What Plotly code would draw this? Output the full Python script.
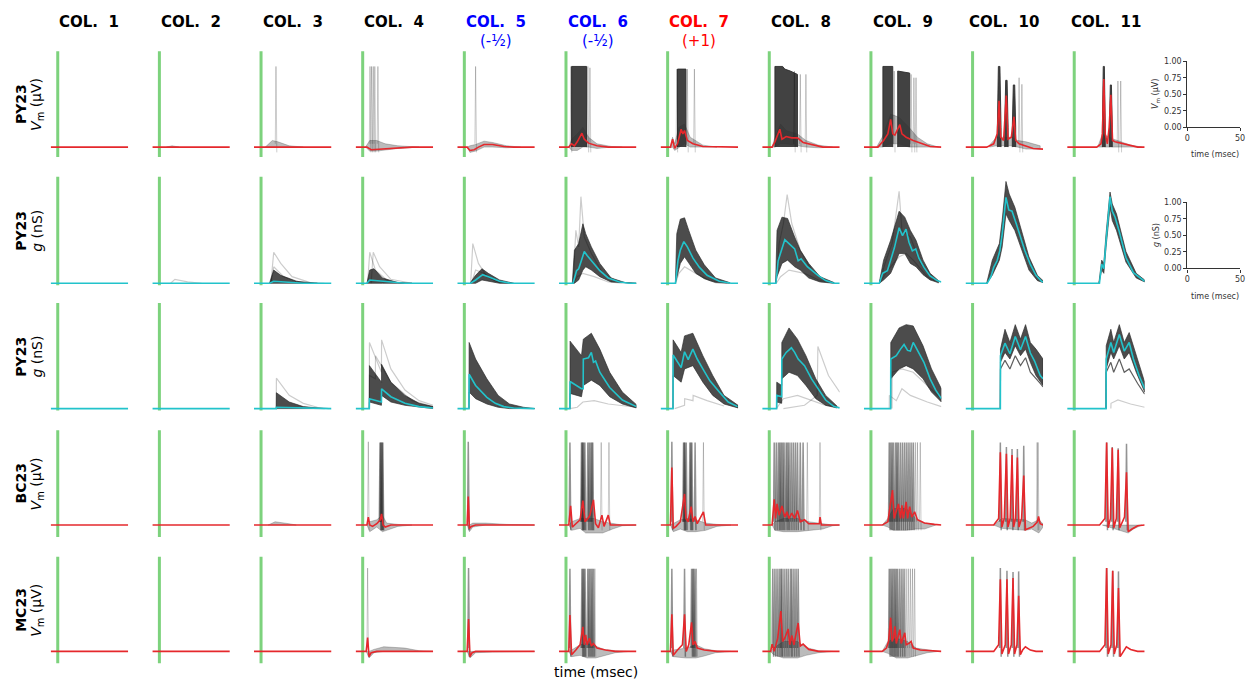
import plotly.graph_objects as go

W, H = 1256, 685

# ---------------- text ----------------
COL_TITLES = ["COL.\u00a0 1", "COL.\u00a0 2", "COL.\u00a0 3", "COL.\u00a0 4", "COL.\u00a0 5", "COL.\u00a0 6",
              "COL.\u00a0 7", "COL.\u00a0 8", "COL.\u00a0 9", "COL.\u00a0 10", "COL.\u00a0 11"]
COL_SUBTITLES = ["", "", "", "", "(-½)", "(-½)", "(+1)", "", "", "", ""]
COL_TITLE_COLORS = ["black", "black", "black", "black", "#0000ff", "#0000ff", "#ff0000",
                    "black", "black", "black", "black"]
ROW_NAMES = ["PY23", "PY23", "PY23", "BC23", "MC23"]
ROW_UNITS = ["<i>V</i><sub>m</sub> (μV)", "<i>g</i> (nS)", "<i>g</i> (nS)",
             "<i>V</i><sub>m</sub> (μV)", "<i>V</i><sub>m</sub> (μV)"]

STIM_T = 0
T_RANGE = [-5, 50]
FLAT = [(-5, 0), (50, 0)]

# ---------------- row 1 : PY23 Vm ----------------
R1_MEAN = [
    FLAT, FLAT, FLAT,
    [(-5, 0), (3, 0), (6, -0.04), (12, -0.03), (20, -0.02), (35, 0), (50, 0)],
    [(-5, 0), (2, 0), (4, -0.05), (7, -0.04), (10, 0), (14, 0.04), (20, 0.04), (28, 0.01), (35, 0), (50, 0)],
    [(-5, 0), (2, 0), (4, 0.05), (6, 0.02), (8, 0.08), (11.3, 0.21), (13, 0.12), (16, 0.06), (22, 0.02), (30, 0), (50, 0)],
    [(-5, 0), (2, 0), (3.5, 0.12), (5, -0.02), (7, 0.05), (9.6, 0.27), (10.8, 0.2), (12, 0.25), (14, 0.1), (18, 0.05), (25, 0.01), (50, 0)],
    [(-5, 0), (2, 0), (4, 0.08), (7.5, 0.27), (9, 0.12), (12, 0.16), (16, 0.14), (20, 0.14), (24, 0.07), (30, 0.04), (38, 0), (50, 0)],
    [(-5, 0), (5, 0), (9, 0.1), (12, 0.2), (14, 0.42), (15.5, 0.2), (17, 0.18), (20.5, 0.34), (22, 0.2), (25, 0.15), (30, 0.1), (35, 0.06), (42, 0.01), (50, 0)],
    [(-5, 0), (10, 0), (15, 0.05), (17.5, 0.2), (18.8, 0.7), (20, 0.15), (22, 0.1), (23.9, 0.78), (25.2, 0.12), (27.5, 0.15), (29.4, 0.46), (30.6, 0.1), (33, 0.05), (38, 0.02), (43, -0.02), (50, -0.03)],
    [(-5, 0), (16, 0), (19, 0.05), (20, 0.2), (21, 1.03), (22, 0.2), (23.5, 0.05), (24.8, 0.3), (26, 0.79), (27.2, 0.1), (29, 0.08), (33, 0.06), (38, 0.03), (45, 0), (50, 0)],
]
R1_ENV = [
    [], [(5, 0, 0), (9, 0, 0.02), (14, 0, 0)],
    [(3, 0, 0), (8, 0, 0.1), (12, -0.01, 0.08), (20, 0, 0.02), (30, 0, 0)],
    [(2, 0, 0), (5, -0.06, 0.1), (10, -0.06, 0.1), (16, -0.05, 0.05), (25, -0.02, 0.02), (40, 0, 0)],
    [(2, 0, 0), (4, -0.08, 0.02), (8, -0.06, 0.04), (14, 0, 0.09), (20, 0, 0.07), (30, -0.01, 0.02), (40, 0, 0)],
    [(2, 0, 0), (4, -0.05, 0.12), (8, -0.05, 0.2), (12, 0, 0.3), (16, 0, 0.15), (22, -0.02, 0.05), (32, 0, 0.01), (40, 0, 0)],
    [(2, -0.01, 0.01), (3.5, 0, 0.15), (5, -0.05, 0.05), (8, 0, 0.3), (12, 0.05, 0.35), (16, 0, 0.15), (25, 0, 0.03), (35, 0, 0)],
    [(2, 0, 0), (4, 0, 0.15), (8, 0.05, 0.35), (12, 0.05, 0.25), (20, 0.02, 0.2), (26, 0, 0.1), (35, -0.01, 0.03), (45, 0, 0)],
    [(4, 0, 0), (8, 0, 0.15), (14, 0.05, 0.5), (20, 0.05, 0.45), (27, 0, 0.3), (33, 0, 0.15), (40, 0, 0.05), (48, 0, 0)],
    [(12, 0, 0.03), (17, 0.02, 0.15), (22, 0.02, 0.15), (28, 0.02, 0.15), (32, 0, 0.1), (38, -0.03, 0.08), (48, -0.03, 0.02)],
    [(17, 0, 0.02), (20, 0, 0.2), (28, 0, 0.12), (34, 0, 0.08), (40, 0, 0.03), (48, 0, 0)],
]
R1_BANDS = [
    [], [], [], [], [],
    [[(4, 1.22), (14.6, 1.22)]],
    [[(7, 1.18), (13, 1.18)]],
    [[(4, 1.22), (9.5, 1.22), (11, 1.18), (15, 1.15), (20, 1.1)]],
    [[(8.5, 1.22), (15.5, 1.22)], [(19, 1.15), (27.5, 1.12)]],
    [[(17.6, 0.3), (18.3, 1.22), (19.4, 1.22), (20.2, 0.3)],
     [(22.8, 0.3), (23.5, 1.01), (24.5, 1.01), (25.2, 0.3)],
     [(28.2, 0.3), (28.9, 0.94), (29.9, 0.94), (30.6, 0.3)]],
    [[(20, 0.3), (20.6, 1.22), (21.4, 1.22), (22, 0.3)],
     [(25, 0.3), (25.6, 0.94), (26.4, 0.94), (27, 0.3)]],
]
R1_LIGHT = [
    [], [], [(10.6, 1.22)],
    [(5.2, 1.22), (6.3, 1.22), (7.5, 1.22), (8.6, 1.22), (10.8, 1.22)],
    [(8, 1.22)],
    [(3.5, 1.22), (15.5, 1.22), (17, 1.2)],
    [(6.5, 1.18), (14, 1.18), (19, 1.18)],
    [(17.8, 1.15), (22, 1.1), (26, 1.1)],
    [(16.5, 1.15), (28.5, 1.1), (30.5, 1.05), (32, 1.05)],
    [(33, 1.05), (35, 0.95)],
    [(31, 1.0), (33, 1.0)],
]

# ---------------- row 2 : PY23 g ----------------
R2_MEAN = [
    FLAT, FLAT,
    [(-5, 0), (6, 0), (9, 0.03), (15, 0.02), (30, 0), (50, 0)],
    [(-5, 0), (3, 0), (5, 0.05), (10, 0.04), (20, 0.01), (30, 0), (50, 0)],
    [(-5, 0), (4.4, 0), (8, 0.05), (13, 0.13), (18, 0.09), (25, 0.03), (33, 0), (50, 0)],
    [(-5, 0), (5, 0), (7.5, 0.19), (9, 0.22), (11, 0.35), (13, 0.48), (15, 0.42), (18, 0.34), (24, 0.19), (30, 0.08), (38, 0.02), (45, 0), (50, 0)],
    [(-5, 0), (5.6, 0), (7.3, 0.34), (9, 0.5), (11.5, 0.63), (14, 0.55), (18, 0.38), (22.6, 0.24), (28, 0.12), (36.7, 0.03), (45, 0), (50, 0)],
    [(-5, 0), (4.7, 0), (6.3, 0.34), (8.5, 0.5), (11, 0.66), (14, 0.6), (18, 0.52), (20.5, 0.34), (22.6, 0.37), (27, 0.25), (34.5, 0.12), (40, 0.04), (46, 0), (50, 0)],
    [(-5, 0), (6, 0), (8.3, 0.15), (11.7, 0.19), (14, 0.35), (16.7, 0.54), (20, 0.84), (22.4, 0.72), (24.9, 0.82), (27, 0.62), (29.4, 0.49), (31.8, 0.52), (34, 0.38), (37.6, 0.24), (42, 0.11), (47, 0.04), (50, 0.02)],
    [(-5, 0), (10.4, 0), (13, 0.1), (15, 0.24), (17.4, 0.34), (19.3, 0.49), (21, 0.74), (23.7, 1.3), (25.7, 1.11), (28, 1.09), (31, 0.9), (33.9, 0.69), (37, 0.5), (40.9, 0.29), (45, 0.12), (49, 0.03), (50, 0.02)],
    [(-5, 0), (17.9, 0), (19.5, 0.29), (21, 0.22), (22.6, 0.64), (25.4, 1.31), (27, 1.09), (29, 1.0), (32, 0.78), (36.7, 0.39), (42, 0.16), (48.4, 0.05), (50, 0.03)],
]
R2_ENV = [
    [], [],
    [(6, 0, 0), (9, 0, 0.2), (14, 0, 0.12), (25, 0, 0.03), (40, 0, 0)],
    [(3, 0, 0), (5, 0, 0.2), (8, 0, 0.22), (14, 0, 0.08), (25, 0, 0.01), (35, 0, 0)],
    [(4, 0, 0), (8, 0, 0.12), (12.5, 0.05, 0.22), (17, 0.03, 0.15), (25, 0, 0.05), (35, 0, 0)],
    [(4.5, 0, 0), (6, 0, 0.5), (9, 0.05, 0.6), (12, 0.2, 0.9), (14, 0.25, 0.75), (18, 0.2, 0.55), (24, 0.1, 0.3), (32, 0.02, 0.08), (42, 0, 0.01), (50, 0, 0)],
    [(5.5, 0, 0), (6.5, 0.1, 0.75), (9, 0.3, 0.97), (12, 0.4, 0.99), (15, 0.3, 0.8), (20, 0.15, 0.5), (26, 0.07, 0.28), (34, 0.01, 0.08), (44, 0, 0.01)],
    [(4.5, 0, 0), (5.5, 0.1, 0.8), (9, 0.3, 1.0), (13, 0.35, 0.98), (18, 0.25, 0.7), (22, 0.2, 0.5), (28, 0.08, 0.3), (36, 0.02, 0.1), (46, 0, 0.01)],
    [(6, 0, 0.02), (9, 0.05, 0.35), (14, 0.15, 0.65), (18, 0.35, 0.95), (20, 0.45, 1.09), (24, 0.45, 1.0), (28, 0.3, 0.8), (32, 0.25, 0.65), (37, 0.13, 0.35), (42, 0.05, 0.15), (48, 0.01, 0.04)],
    [(10, 0, 0), (14, 0.12, 0.35), (19, 0.35, 0.6), (21, 0.55, 0.95), (23.7, 1.05, 1.54), (26, 0.95, 1.35), (30, 0.8, 1.15), (34, 0.55, 0.85), (40, 0.2, 0.4), (46, 0.04, 0.12), (50, 0.01, 0.04)],
    [(17.5, 0, 0), (19.5, 0.2, 0.35), (21, 0.15, 0.3), (22.6, 0.55, 0.75), (25.4, 1.15, 1.38), (27, 0.95, 1.2), (30, 0.8, 1.05), (36.7, 0.32, 0.48), (44, 0.08, 0.15), (50, 0.02, 0.05)],
]
R2_OUT = [
    [], [[(8, 0), (11, 0.06), (20, 0.02), (30, 0)]],
    [[(7, 0), (9, 0.47), (14, 0.3), (22, 0.1), (35, 0.01), (45, 0)], [(7, 0), (9, 0.25), (16, 0.1), (30, 0)]],
    [[(3.5, 0), (5, 0.47), (9, 0.2), (18, 0.03), (30, 0)], [(6, 0), (7.5, 0.47), (12, 0.25), (20, 0.06), (35, 0)]],
    [[(4.5, 0), (6, 0.6), (10, 0.3), (16, 0.1), (25, 0.01), (32, 0)], [(5, 0), (8, 0.2), (14, 0.15), (22, 0.03), (32, 0)]],
    [[(5, 0), (7, 0.8), (9, 0.55), (10.6, 1.31), (13, 0.7), (18, 0.45), (26, 0.15), (38, 0.01)], [(5, 0), (8, 0.1), (12, 0.15), (20, 0.1), (30, 0.02), (40, 0)]],
    [[(5.6, 0), (8, 0.15), (12, 0.25), (20, 0.15), (30, 0.04), (42, 0)]],
    [[(4.7, 0), (7, 0.6), (10, 0.9), (12.7, 1.34), (16, 0.9), (22, 0.5), (30, 0.2), (40, 0.03)], [(5, 0), (8, 0.1), (14, 0.2), (25, 0.15), (35, 0.05), (45, 0)]],
    [[(6, 0), (10, 0.3), (15, 0.6), (20, 1.39), (22, 0.8), (28, 0.7), (35, 0.3), (45, 0.05)], [(6, 0), (12, 0.2), (20, 0.4), (25, 0.45), (30, 0.35), (40, 0.1), (48, 0)]],
    [], [],
]

# ---------------- row 3 : PY23 g ----------------
R3_MEAN = [
    FLAT, FLAT,
    [(-5, 0), (10.8, 0), (10.9, 0.02), (25, 0.01), (50, 0)],
    [(-5, 0), (4.7, 0), (4.8, 0.15), (13.3, 0.1), (13.4, 0.3), (20, 0.18), (30, 0.08), (40, 0.03), (50, 0.01)],
    [(-5, 0), (3.3, 0), (3.4, 0.52), (8, 0.35), (16, 0.17), (22, 0.08), (28, 0.03), (35, 0.01), (50, 0)],
    [(-5, 0), (2.8, 0), (2.9, 0.41), (11, 0.3), (12.2, 0.3), (12.3, 0.75), (16, 0.77), (18, 0.85), (19.5, 0.7), (21, 0.72), (24, 0.55), (31, 0.32), (40, 0.13), (50, 0.03)],
    [(-5, 0), (3.8, 0), (3.9, 0.81), (9.6, 0.62), (12, 0.86), (14.6, 0.74), (17.9, 0.9), (21, 0.75), (25, 0.6), (30, 0.42), (36.7, 0.25), (43, 0.1), (49.6, 0.03)],
    [(-5, 0), (5.2, 0), (5.3, 0.2), (8.8, 0.18), (8.9, 0.75), (12, 0.85), (15.7, 0.92), (18, 0.85), (20.5, 0.75), (25, 0.65), (30, 0.45), (34.5, 0.3), (40, 0.13), (46, 0.03), (50, 0.01)],
    [(-5, 0), (14, 0), (14.1, 0.75), (18, 0.8), (21, 0.9), (23.5, 0.97), (26, 0.88), (28, 0.87), (30, 1.0), (33, 0.88), (37.6, 0.7), (42, 0.45), (46, 0.28), (49.4, 0.17), (50, 0.15)],
    [(-5, 0), (19.7, 0), (19.8, 0.8), (23, 0.99), (26.5, 0.83), (30.3, 1.09), (34, 0.89), (37.6, 1.09), (41, 0.84), (44, 0.72), (48, 0.5), (50, 0.45)],
    [(-5, 0), (22.6, 0), (22.7, 0.75), (26, 1.0), (28, 0.85), (32, 1.12), (35.5, 0.87), (39, 1.0), (42, 0.75), (46, 0.5), (50, 0.3)],
]
R3_ENV = [
    [], [],
    [(10.8, 0, 0), (10.9, 0, 0.24), (20, 0, 0.1), (30, 0, 0.03), (45, 0, 0)],
    [(4.7, 0, 0), (4.8, 0.1, 0.65), (13.3, 0.05, 0.4), (13.4, 0.2, 0.67), (20, 0.1, 0.4), (30, 0.05, 0.2), (40, 0.02, 0.08), (50, 0, 0.03)],
    [(3.3, 0, 0), (3.4, 0.25, 1.0), (8, 0.15, 0.75), (16, 0.07, 0.45), (24, 0.02, 0.2), (32, 0, 0.07), (42, 0, 0.02), (50, 0, 0)],
    [(2.8, 0, 0), (2.9, 0.23, 1.02), (11, 0.18, 0.8), (12.3, 0.35, 1.05), (18, 0.43, 1.14), (24, 0.35, 0.9), (31, 0.18, 0.55), (40, 0.07, 0.25), (50, 0.01, 0.06)],
    [(3.8, 0, 0), (3.9, 0.5, 1.04), (9.6, 0.4, 0.85), (12, 0.6, 1.1), (17.9, 0.65, 1.14), (25, 0.4, 0.8), (32, 0.2, 0.5), (40, 0.07, 0.2), (50, 0.01, 0.05)],
    [(5.2, 0, 0), (5.3, 0.1, 0.4), (8.8, 0.08, 0.35), (8.9, 0.45, 1.0), (14, 0.55, 1.22), (20, 0.5, 1.05), (26, 0.35, 0.8), (33, 0.15, 0.45), (40, 0.05, 0.2), (48, 0.01, 0.04)],
    [(14, 0, 0), (14.1, 0.45, 1.0), (20, 0.6, 1.22), (25, 0.65, 1.27), (30, 0.6, 1.25), (37, 0.45, 0.95), (43, 0.25, 0.6), (50, 0.1, 0.3)],
    [(19.7, 0, 0), (19.8, 0.7, 0.9), (23, 0.85, 1.2), (26.5, 0.75, 1.0), (30.3, 0.95, 1.27), (34, 0.8, 1.05), (37.6, 0.9, 1.27), (41, 0.7, 1.0), (45, 0.5, 0.9), (50, 0.35, 0.75)],
    [(22.6, 0, 0), (22.7, 0.6, 0.95), (26, 0.85, 1.2), (28, 0.75, 1.0), (32, 0.95, 1.27), (35.5, 0.75, 1.0), (39, 0.85, 1.15), (44, 0.55, 0.8), (50, 0.25, 0.4)],
]
R3_OUT = [
    [], [],
    [[(10.8, 0), (10.9, 0.46), (20, 0.2), (30, 0.08), (40, 0.02), (48, 0)]],
    [[(4.7, 0), (4.8, 1.0), (13.3, 0.55), (13.4, 1.04), (20, 0.6), (30, 0.28), (40, 0.12), (50, 0.05)],
     [(4.7, 0), (4.8, 0.5), (9, 0.45), (9.1, 0.8), (20, 0.4), (35, 0.12), (50, 0.03)]],
    [],
    [[(2.8, 0), (8, 0.02), (12, 0.1), (20, 0.12), (30, 0.07), (50, 0.02)]],
    [[(5, 0), (12, 0.05), (12.1, 0.15), (18, 0.12), (18.1, 0.2), (28, 0.12), (40, 0.04)]],
    [[(10, 0), (25, 0.05), (34, 0.2), (34.5, 0.94), (42, 0.5), (50, 0.25)],
     [(5, 0), (10, 0.15), (20, 0.2), (30, 0.12), (40, 0.05), (50, 0.02)]],
    [[(13, 0), (13.1, 0.2), (18, 0.12), (22, 0.3), (28, 0.2), (40, 0.1), (50, 0.03)],
     [(15, 0), (15.1, 0.55), (22, 0.6), (30, 0.55), (40, 0.35), (50, 0.15)]],
    [[(19.7, 0), (19.8, 0.6), (23, 0.73), (26.5, 0.6), (30.3, 0.8), (34, 0.65), (37.6, 0.77), (41, 0.55), (48, 0.38), (50, 0.33)]],
    [[(22.6, 0), (22.7, 0.55), (26, 0.7), (28, 0.55), (32, 0.75), (35.5, 0.55), (39, 0.6), (45, 0.38), (50, 0.22)],
     [(26, 0), (26.1, 0.08), (31, 0.13), (40, 0.07), (50, 0.02)]],
]
R3_DARK_OUT = [False] * 9 + [True, True]

# ---------------- row 4 : BC23 Vm ----------------
R4_MEAN = [
    FLAT, FLAT, FLAT,
    [(-5, 0), (3, 0), (4, 0.12), (5, 0), (7, -0.02), (10, 0.02), (12.5, 0.08), (13.4, 0.17), (14.5, 0), (16, -0.03), (20, 0), (50, 0)],
    [(-5, 0), (2, 0), (2.8, 0.43), (3.6, -0.05), (5, -0.02), (8, 0), (50, 0)],
    [(-5, 0), (2, 0), (3.3, 0.29), (4.5, -0.03), (7, 0.02), (10, 0.08), (12, 0.37), (13.5, 0.05), (15.5, 0.1), (17, 0.15), (19.5, 0.38), (21, 0.02), (23, -0.04), (25.5, 0.15), (27, -0.02), (30, 0.15), (31.5, 0), (35, 0), (50, 0)],
    [(-5, 0), (2, 0), (3, 0.87), (4, -0.05), (6, -0.02), (9, 0.05), (12, 0.47), (13, 0.1), (14.5, 0.05), (16.7, 0.28), (18, 0.05), (19.5, 0.13), (21, 0.02), (25.4, 0.2), (27, 0), (35, 0), (50, 0)],
    [(-5, 0), (2, 0), (3.5, 0.39), (4.5, 0.1), (5.5, 0.32), (7, 0.15), (9, 0.29), (11, 0.12), (12.5, 0.2), (14, 0.1), (16, 0.18), (18, 0.1), (20, 0.22), (22, 0.05), (25, 0.08), (28, 0.02), (35.5, 0.02), (36, 0.12), (37, 0), (40, 0), (50, 0)],
    [(-5, 0), (8, 0), (12, 0.05), (15.3, 0.53), (16.5, 0.1), (18, 0.2), (19.5, 0.32), (21, 0.1), (22, 0.3), (23, 0.1), (25, 0.35), (26, 0.1), (27.5, 0.28), (29, 0.12), (31, 0.2), (33, 0.08), (38, 0.03), (45, 0.01), (50, 0)],
    [(-5, 0), (15, 0), (18.5, 0.1), (19.7, 1.1), (20.8, -0.03), (22.5, 0.1), (24, 1.08), (25.1, -0.03), (26.7, 0.1), (28, 1.06), (29.1, -0.03), (30.5, 0.1), (31.8, 1.02), (32.9, -0.03), (34.8, 0.1), (36.3, 0.75), (37.5, -0.07), (40, -0.05), (43, -0.02), (46, 0.05), (46.8, 0.13), (48, 0.02), (50, 0)],
    [(-5, 0), (18, 0), (21.8, 0.1), (23, 1.25), (24.1, -0.04), (25.7, 0.1), (27, 1.17), (28.1, -0.04), (29.9, 0.1), (31.2, 1.14), (32.3, -0.04), (35.7, 0.12), (37.1, 0.8), (38.3, -0.1), (41, -0.06), (45, -0.01), (50, 0)],
]
R4_ENV = [
    [], [], [(5, 0, 0), (10, 0, 0.05), (20, 0, 0.02), (25, 0, 0)],
    [(3, 0, 0), (5, -0.1, 0.05), (10, -0.03, 0.08), (14, -0.1, 0.15), (17, -0.08, 0.03), (25, -0.02, 0.01), (35, 0, 0)],
    [(2, 0, 0), (3.6, -0.1, 0), (6, -0.03, 0.03), (15, 0, 0.03), (30, 0, 0.01), (50, 0, 0)],
    [(2, 0, 0), (4, -0.08, 0.05), (10, -0.05, 0.1), (14, -0.12, 0.1), (20, -0.12, 0.1), (26, -0.12, 0.05), (33, -0.06, 0.02), (40, -0.01, 0), (50, 0, 0)],
    [(2, 0, 0), (4, -0.1, 0.02), (9, -0.06, 0.08), (14, -0.1, 0.1), (20, -0.1, 0.08), (27, -0.08, 0.03), (35, -0.02, 0.01), (45, 0, 0)],
    [(2, 0, 0), (4, -0.08, 0.05), (10, -0.1, 0.1), (20, -0.1, 0.1), (28, -0.08, 0.05), (38, -0.06, 0.02), (45, -0.01, 0), (50, 0, 0)],
    [(8, 0, 0), (12, -0.03, 0.1), (16, -0.08, 0.25), (25, -0.08, 0.25), (32, -0.06, 0.1), (38, -0.06, 0.03), (46, 0, 0.01)],
    [(15, 0, 0), (20.8, -0.05, 0.1), (37.5, -0.08, 0.08), (42, -0.06, 0.03), (47, -0.12, 0.08), (50, -0.03, 0.02)],
    [(20, 0, 0), (38.3, -0.12, 0), (42, -0.06, 0.01), (48, 0, 0)],
]
R4_DARK = [
    [], [], [],
    [(12.3, 1.25), (12.8, 1.25), (13.3, 1.25), (13.8, 1.25), (14.3, 1.25)],
    [(2.8, 1.26)],
    [(2.8, 1.25), (11, 1.25), (11.5, 1.25), (12, 1.25), (12.5, 1.25), (13.4, 1.25), (15.5, 1.25), (16.5, 1.25), (17.5, 1.25), (18.3, 1.25), (19, 1.25)],
    [(3, 1.26), (11.3, 1.25), (11.8, 1.25), (12.3, 1.25), (13.2, 1.25), (15.8, 1.25), (16.5, 1.25), (17.2, 1.25), (19.5, 1.25)],
    [(3.5, 1.25), (5, 1.25), (6.5, 1.25), (7.5, 1.25), (8.5, 1.25), (9.5, 1.25), (10.5, 1.25), (12, 1.25), (13, 1.25), (14, 1.25), (15.5, 1.25), (17, 1.25), (18.5, 1.25), (20, 1.25), (22, 1.25), (24, 1.25)],
    [(13, 1.25), (14, 1.25), (15, 1.25), (16, 1.25), (17.5, 1.25), (18.5, 1.25), (19.5, 1.25), (21, 1.25), (22.5, 1.25), (24, 1.25), (25.5, 1.25), (27, 1.25), (28.5, 1.25), (30, 1.25)],
    [(19.7, 1.25), (24, 1.18), (28, 1.15), (31.8, 1.15), (36.3, 1.2)],
    [(23, 1.25), (27, 1.18), (31.2, 1.16), (37.1, 1.23)],
]
R4_LIGHT = [
    [], [], [],
    [(4, 1.26)],
    [],
    [(25, 1.25), (30.5, 1.25)],
    [(25.4, 1.25)],
    [(27, 1.25), (36, 1.25)],
    [(31.5, 1.25), (33, 1.25), (35, 1.25)],
    [(45.8, 1.25), (46.5, 1.25)],
    [],
]

# ---------------- row 5 : MC23 Vm ----------------
R5_MEAN = [
    FLAT, FLAT, FLAT,
    [(-5, 0), (2.5, 0), (3.5, 0.21), (4.5, -0.08), (6, -0.02), (10, 0), (50, 0)],
    [(-5, 0), (2, 0), (3, 0.49), (4, -0.08), (5.5, -0.02), (8, 0), (50, 0)],
    [(-5, 0), (2, 0), (2.8, 0.55), (4, -0.05), (7, 0.02), (10, 0.1), (12, 0.37), (13, 0.1), (14, 0.25), (15, 0.1), (16.7, 0.2), (18, 0.08), (19.5, 0.12), (22, 0.05), (28, 0.02), (35, 0), (50, 0)],
    [(-5, 0), (2, 0), (3, 0.56), (4, -0.06), (7, 0.02), (10.5, 0.1), (12, 0.56), (13.2, 0), (15, 0.1), (17, 0.44), (18, 0.1), (19.5, 0.15), (21, 0.05), (26, 0.02), (35, 0), (50, 0)],
    [(-5, 0), (1, 0), (2, 0.11), (3.5, 0), (6, 0.2), (8.2, 0.61), (9.5, 0.15), (11, 0.2), (13.4, 0.34), (14.5, 0.1), (16, 0.24), (17.5, 0.1), (20.5, 0.43), (22, 0.08), (24, 0.11), (28, 0.03), (35, 0), (50, 0)],
    [(-5, 0), (8, 0), (11, 0.05), (12.5, 0.15), (14, 0.51), (15, 0.15), (16, 0.2), (17, 0.38), (18, 0.12), (19, 0.2), (20.5, 0.33), (21.5, 0.12), (23, 0.2), (24, 0.28), (25, 0.1), (27, 0.12), (28.5, 0.15), (30, 0.05), (35, 0.02), (45, 0), (50, 0)],
    [(-5, 0), (15, 0), (18.5, 0.1), (19.7, 1.09), (20.8, -0.04), (23.2, 0.1), (24.4, 1.09), (25.5, -0.04), (27.5, 0.1), (28.7, 1.11), (29.8, -0.04), (31.5, 0.1), (32.7, 0.84), (33.9, -0.05), (35.5, 0.02), (37.5, 0.07), (41, 0.02), (45, 0), (50, 0)],
    [(-5, 0), (18, 0), (21.8, 0.1), (23, 1.26), (24.1, -0.04), (26.1, 0.1), (27.3, 1.22), (28.4, -0.04), (30.2, 0.1), (31.4, 0.96), (32.6, -0.08), (34, -0.03), (37, 0.07), (40, 0.03), (45, 0), (50, 0)],
]
R5_ENV = [
    [], [], [],
    [(2.5, 0, 0), (4.5, -0.1, 0), (8, -0.02, 0.03), (15, 0, 0.07), (30, 0, 0.05), (40, 0, 0.01), (50, 0, 0)],
    [(2, 0, 0), (4, -0.1, 0), (8, -0.02, 0.01), (20, -0.01, 0.01), (50, 0, 0)],
    [(2, 0, 0), (4, -0.08, 0.02), (10, -0.06, 0.1), (15, -0.1, 0.12), (21, -0.1, 0.08), (27, -0.06, 0.03), (35, -0.02, 0.01), (45, 0, 0)],
    [(2, 0, 0), (4, -0.08, 0.02), (13, -0.1, 0.05), (20, -0.1, 0.1), (26, -0.07, 0.04), (34, -0.02, 0.01), (45, 0, 0)],
    [(1, 0, 0), (3, -0.05, 0.05), (10, -0.1, 0.15), (20, -0.1, 0.15), (26, -0.06, 0.06), (35, -0.02, 0.01), (45, 0, 0)],
    [(8, 0, 0), (12, -0.03, 0.15), (18, -0.1, 0.2), (26, -0.1, 0.15), (32, -0.06, 0.05), (40, -0.02, 0.02), (48, 0, 0)],
    [], [],
]
R5_DARK = [
    [], [], [],
    [],
    [(3, 1.26)],
    [(2.8, 1.25), (11.3, 1.25), (12, 1.25), (12.7, 1.25), (13.5, 1.25), (15.5, 1.25), (16.5, 1.25), (17.5, 1.25), (18.5, 1.25), (19.5, 1.25)],
    [(3, 1.25), (12, 1.25), (17, 1.25), (17.8, 1.25), (18.5, 1.25), (19.5, 1.25)],
    [(2.5, 1.25), (4, 1.25), (5.5, 1.25), (7, 1.25), (8.2, 1.25), (9, 1.25), (10.5, 1.25), (12, 1.25), (13.4, 1.25), (15, 1.25), (16, 1.25), (17.5, 1.25), (19, 1.25), (20.5, 1.25)],
    [(13, 1.25), (14, 1.25), (15, 1.25), (16, 1.25), (17, 1.25), (18, 1.25), (19, 1.25), (20.5, 1.25), (22, 1.25), (23.5, 1.25)],
    [(19.7, 1.26), (24.4, 1.22), (28.7, 1.2), (32.7, 1.21)],
    [(23, 1.26), (27.3, 1.22), (31.4, 1.21)],
]
R5_LIGHT = [
    [], [], [],
    [(3.5, 1.26)],
    [],
    [(20.5, 1.25)],
    [(20.5, 1.25)],
    [],
    [(25, 1.25), (26.5, 1.25), (28, 1.25), (29.5, 1.25), (31, 1.25)],
    [], [],
]

# scale-bar axes
SCALE_X_TICKS = [0, 50]
SCALE_Y_TICKS = [0, 0.25, 0.5, 0.75, 1.0]
SCALE_LABELS = ["<i>V</i><sub>m</sub> (μV)", "<i>g</i> (nS)"]

# ---------------- styling / layout ----------------
RED = "#e5282c"
CYAN = "#22c3cb"
GREEN = "#7dd27d"
DARK_FILL = "rgba(45,45,45,0.85)"
VM_FILL = "rgba(60,60,60,0.35)"
DARK_SPIKE = "rgba(40,40,40,0.5)"
LIGHT_LINE = "rgba(0,0,0,0.2)"
MID_LINE = "rgba(40,40,40,0.75)"
FONT = "DejaVu Sans"

COL_X0 = 55.0     # pixel x of the stimulus line in column 1
COL_STEP = 102.3
ROW_TOP = [48, 175, 303, 432, 560]
ROW_BOT = [155, 285, 412, 540, 668]
ROW_YRANGE = [(-0.149, 1.448), (-0.03, 1.612), (-0.03, 1.597), (-0.179, 1.433), (-0.179, 1.433)]

ROWS = [
    dict(mean=R1_MEAN, env=R1_ENV, bands=R1_BANDS, dark=[[]] * 11, light=R1_LIGHT, out=[[]] * 11, color=RED, env_fill=VM_FILL),
    dict(mean=R2_MEAN, env=R2_ENV, bands=[[]] * 11, dark=[[]] * 11, light=[[]] * 11, out=R2_OUT, color=CYAN, env_fill=DARK_FILL),
    dict(mean=R3_MEAN, env=R3_ENV, bands=[[]] * 11, dark=[[]] * 11, light=[[]] * 11, out=R3_OUT, color=CYAN, env_fill=DARK_FILL),
    dict(mean=R4_MEAN, env=R4_ENV, bands=[[]] * 11, dark=R4_DARK, light=R4_LIGHT, out=[[]] * 11, color=RED, env_fill=VM_FILL),
    dict(mean=R5_MEAN, env=R5_ENV, bands=[[]] * 11, dark=R5_DARK, light=R5_LIGHT, out=[[]] * 11, color=RED, env_fill=VM_FILL),
]


def xs_ys(points):
    return [p[0] for p in points], [p[1] for p in points]


def spike_path(spikes):
    xs, ys = [], []
    for t, h in spikes:
        xs += [t - 0.5, t, t + 0.6, None]
        ys += [0.05, h, -0.08, None]
    return xs, ys


fig = go.Figure()
layout = dict()
shapes = []
annotations = []


def ann(text, xpx, ypx, size, color="black", angle=0):
    return dict(text=text, x=xpx / W, y=1 - ypx / H, xref="paper", yref="paper", xanchor="center",
                yanchor="middle", textangle=angle, showarrow=False,
                font=dict(family=FONT, size=size, color=color))


k = 0
for r, row in enumerate(ROWS):
    for c in range(11):
        k += 1
        ax = "" if k == 1 else str(k)
        xref, yref = "x" + ax, "y" + ax
        gx = COL_X0 + COL_STEP * c
        left, right = gx - 7, gx + 71
        layout["xaxis" + ax] = dict(domain=[left / W, right / W], range=T_RANGE, visible=False,
                                    anchor=yref, fixedrange=True)
        layout["yaxis" + ax] = dict(domain=[1 - ROW_BOT[r] / H, 1 - ROW_TOP[r] / H],
                                    range=list(ROW_YRANGE[r]), visible=False, anchor=xref, fixedrange=True)
        shapes.append(dict(type="line", xref=xref, yref=yref + " domain", x0=STIM_T, x1=STIM_T, y0=0, y1=1,
                           line=dict(color=GREEN, width=3), layer="below"))
        env = row["env"][c]
        if env:
            ex = [p[0] for p in env] + [p[0] for p in env[::-1]]
            ey = [p[2] for p in env] + [p[1] for p in env[::-1]]
            fig.add_trace(go.Scatter(x=ex, y=ey, fill="toself", fillcolor=row["env_fill"], mode="lines",
                                     line=dict(color=row["env_fill"], width=0.8), xaxis=xref, yaxis=yref,
                                     hoverinfo="skip", showlegend=False))
        for band in row["bands"][c]:
            bx = [band[0][0]] + [p[0] for p in band] + [band[-1][0]]
            by = [0] + [p[1] for p in band] + [0]
            fig.add_trace(go.Scatter(x=bx, y=by, fill="toself", fillcolor="rgba(45,45,45,0.9)", mode="lines",
                                     line=dict(color="rgba(45,45,45,0.9)", width=1), xaxis=xref, yaxis=yref,
                                     hoverinfo="skip", showlegend=False))
        if row["light"][c]:
            sx, sy = spike_path(row["light"][c])
            fig.add_trace(go.Scatter(x=sx, y=sy, mode="lines", line=dict(color=LIGHT_LINE, width=1),
                                     xaxis=xref, yaxis=yref, hoverinfo="skip", showlegend=False))
        if row["dark"][c]:
            sx, sy = spike_path(row["dark"][c])
            fig.add_trace(go.Scatter(x=sx, y=sy, mode="lines", line=dict(color=DARK_SPIKE, width=1.5),
                                     xaxis=xref, yaxis=yref, hoverinfo="skip", showlegend=False))
        for i, o in enumerate(row["out"][c]):
            ox, oy = xs_ys(o)
            col = MID_LINE if (r == 2 and R3_DARK_OUT[c] and i == 0) else LIGHT_LINE
            fig.add_trace(go.Scatter(x=ox, y=oy, mode="lines", line=dict(color=col, width=1.2),
                                     xaxis=xref, yaxis=yref, hoverinfo="skip", showlegend=False))
        mx, my = xs_ys(row["mean"][c])
        fig.add_trace(go.Scatter(x=mx, y=my, mode="lines", line=dict(color=row["color"], width=1.6),
                                 xaxis=xref, yaxis=yref, hoverinfo="skip", showlegend=False))

# column titles
for c in range(11):
    cx = COL_X0 + COL_STEP * c + 32
    annotations.append(ann("<b>" + COL_TITLES[c] + "</b>", cx, 18, 15, COL_TITLE_COLORS[c]))
    if COL_SUBTITLES[c]:
        annotations.append(ann(COL_SUBTITLES[c], cx, 37, 15, COL_TITLE_COLORS[c]))
# row labels
for r in range(5):
    cy = (ROW_TOP[r] + ROW_BOT[r]) / 2
    annotations.append(ann("<b>" + ROW_NAMES[r] + "</b>", 18, cy, 14, angle=-90))
    annotations.append(ann(ROW_UNITS[r], 34, cy, 14, angle=-90))
annotations.append(ann("time (msec)", 597, 677, 14))

# scale axes
SCALE_BOX = [(58, 125), (201, 268)]
for s in range(2):
    k += 1
    ax = str(k)
    top, bot = SCALE_BOX[s]
    layout["xaxis" + ax] = dict(domain=[1192 / W, 1245 / W], range=[0, 50], anchor="y" + ax,
                                tickvals=SCALE_X_TICKS, showline=True, linecolor="#333", linewidth=1.2,
                                ticks="outside", ticklen=3, tickcolor="#333", showgrid=False, zeroline=False,
                                tickfont=dict(family=FONT, size=8, color="#333"), fixedrange=True)
    layout["yaxis" + ax] = dict(domain=[1 - bot / H, 1 - top / H], range=[0, 1], anchor="x" + ax,
                                tickvals=SCALE_Y_TICKS, tickformat=".2f", showline=True, linecolor="#333",
                                linewidth=1.2, ticks="outside", ticklen=3, tickcolor="#333", showgrid=False,
                                zeroline=False, tickfont=dict(family=FONT, size=8, color="#333"), fixedrange=True)
    fig.add_trace(go.Scatter(x=[None], y=[None], xaxis="x" + ax, yaxis="y" + ax, showlegend=False))
    annotations.append(ann("time (msec)", 1220, bot + 28, 8, "#333"))
    annotations.append(ann(SCALE_LABELS[s], 1161, (top + bot) / 2, 8, "#333", angle=-90))

fig.update_layout(**layout)
fig.update_layout(width=W, height=H, margin=dict(l=0, r=0, t=0, b=0), paper_bgcolor="white",
                  plot_bgcolor="white", showlegend=False, shapes=shapes, annotations=annotations,
                  hovermode=False)
fig.write_html("out.html", config={"displayModeBar": False},
               post_script="document.body.style.margin='0px';document.body.style.overflow='hidden';")
